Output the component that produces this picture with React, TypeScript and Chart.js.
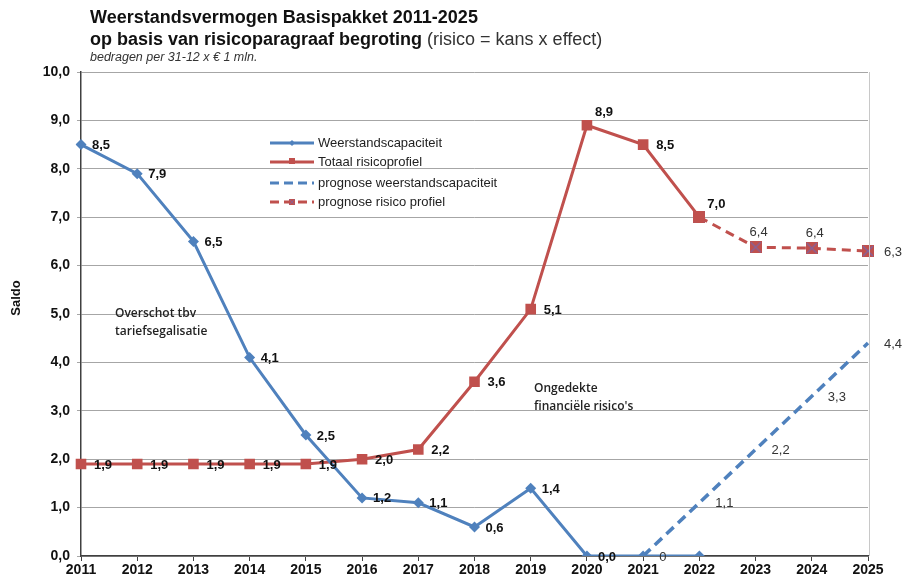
import React, { useEffect, useRef } from "react";
import { Chart, registerables } from "chart.js";

Chart.register(...registerables);

const years = ["2011", "2012", "2013", "2014", "2015", "2016", "2017", "2018", "2019", "2020", "2021", "2022", "2023", "2024", "2025"];
const yTicks = [0, 1, 2, 3, 4, 5, 6, 7, 8, 9, 10];
const weerstand = [8.5, 7.9, 6.5, 4.1, 2.5, 1.2, 1.1, 0.6, 1.4, 0.0, 0.0, 0.0, null, null, null];
const risico = [1.9, 1.9, 1.9, 1.9, 1.9, 2.0, 2.2, 3.6, 5.1, 8.9, 8.5, 7.0, null, null, null];
const prognoseWeerstand = [null, null, null, null, null, null, null, null, null, null, 0, 1.1, 2.2, 3.3, 4.4];
const prognoseRisico = [null, null, null, null, null, null, null, null, null, null, null, 7.0, 6.38, 6.36, 6.3];
const weerstandNoLabel = [10, 11];
const prognoseRisicoNoLabel = [11];
const risicoLabelAbove = [9, 11];

const BLUE = "#4F81BD";
const RED = "#C0504D";
const PURPLE = "#8064A2";
const FONT = "'Liberation Sans', Arial, sans-serif";

const fmt = (v: number) => v.toFixed(1).replace(".", ",");

function makeSquareX(): HTMLCanvasElement {
  const c = document.createElement("canvas");
  c.width = 12;
  c.height = 12;
  const g = c.getContext("2d")!;
  g.fillStyle = RED;
  g.fillRect(0, 0, 12, 12);
  g.strokeStyle = PURPLE;
  g.lineWidth = 1.2;
  g.beginPath();
  g.moveTo(1, 1);
  g.lineTo(11, 11);
  g.moveTo(11, 1);
  g.lineTo(1, 11);
  g.stroke();
  return c;
}

export default function App() {
  const ref = useRef<HTMLCanvasElement>(null);
  useEffect(() => {
    const canvas = ref.current!;
    const sqx = makeSquareX();

    const bgPlugin = {
      id: "bg",
      beforeDraw(chart: any) {
        const ctx = chart.ctx;
        ctx.save();
        ctx.fillStyle = "#ffffff";
        ctx.fillRect(0, 0, chart.width, chart.height);
        ctx.restore();
      },
      afterDraw(chart: any) {
        const ctx = chart.ctx;
        const a = chart.chartArea;
        ctx.save();
        // right border
        ctx.strokeStyle = "#c8c8c8";
        ctx.lineWidth = 1;
        ctx.beginPath();
        ctx.moveTo(a.right + 1.5, a.top);
        ctx.lineTo(a.right + 1.5, a.bottom);
        ctx.stroke();
        // titles
        ctx.fillStyle = "#111";
        ctx.textBaseline = "middle";
        ctx.textAlign = "left";
        ctx.font = `bold 18px ${FONT}`;
        ctx.fillText("Weerstandsvermogen Basispakket 2011-2025", 90, 18);
        const t2 = "op basis van risicoparagraaf begroting";
        ctx.fillText(t2, 90, 40);
        const w2 = ctx.measureText(t2).width;
        ctx.font = `18px ${FONT}`;
        ctx.fillStyle = "#333";
        ctx.fillText(" (risico = kans x effect)", 90 + w2, 40);
        ctx.font = `italic 12.5px ${FONT}`;
        ctx.fillStyle = "#333";
        ctx.fillText("bedragen per 31-12 x € 1 mln.", 90, 58);
        // y title
        ctx.save();
        ctx.translate(16, 298);
        ctx.rotate(-Math.PI / 2);
        ctx.textAlign = "center";
        ctx.font = `bold 13px ${FONT}`;
        ctx.fillStyle = "#111";
        ctx.fillText("Saldo", 0, 0);
        ctx.restore();
        // annotations
        ctx.font = "600 12px 'Open Sans', sans-serif";
        ctx.fillStyle = "#222";
        ctx.fillText("Overschot tbv", 115, 314);
        ctx.fillText("tariefsegalisatie", 115, 332);
        ctx.fillText("Ongedekte", 534, 389);
        ctx.fillText("financiële risico's", 534, 407);
        // legend
        const lx = 270, lx2 = 314;
        const entries = [
          { y: 143, color: BLUE, dash: [] as number[], marker: "diamond", text: "Weerstandscapaciteit" },
          { y: 162, color: RED, dash: [] as number[], marker: "square", text: "Totaal risicoprofiel" },
          { y: 183, color: BLUE, dash: [9, 5], marker: "none", text: "prognose weerstandscapaciteit" },
          { y: 202, color: RED, dash: [9, 5], marker: "sqx", text: "prognose risico profiel" },
        ];
        for (const e of entries) {
          ctx.strokeStyle = e.color;
          ctx.lineWidth = 3;
          ctx.setLineDash(e.dash);
          ctx.beginPath();
          ctx.moveTo(lx, e.y);
          ctx.lineTo(lx2, e.y);
          ctx.stroke();
          ctx.setLineDash([]);
          const mx = (lx + lx2) / 2;
          if (e.marker === "diamond") {
            ctx.fillStyle = BLUE;
            ctx.beginPath();
            ctx.moveTo(mx, e.y - 3);
            ctx.lineTo(mx + 3, e.y);
            ctx.lineTo(mx, e.y + 3);
            ctx.lineTo(mx - 3, e.y);
            ctx.fill();
          } else if (e.marker === "square") {
            ctx.fillStyle = RED;
            ctx.fillRect(mx - 3, e.y - 4, 6, 6);
          } else if (e.marker === "sqx") {
            ctx.drawImage(sqx, mx - 3, e.y - 3, 6, 6);
          }
          ctx.fillStyle = "#222";
          ctx.font = `13px ${FONT}`;
          ctx.textAlign = "left";
          ctx.fillText(e.text, lx2 + 4, e.y);
        }
        // data labels
        chart.data.datasets.forEach((ds: any, di: number) => {
          const meta = chart.getDatasetMeta(di);
          const st = ds.labelStyle;
          ctx.font = st.font;
          ctx.fillStyle = st.color;
          const last = ds.data.length - 1;
          meta.data.forEach((pt: any, i: number) => {
            const v = ds.data[i];
            if (v === null || v === undefined) return;
            if (st.skip && st.skip.includes(i)) return;
            const txt = st.format ? st.format(v) : fmt(v);
            let dx = st.dx, dy = st.dy, align = st.align;
            if (st.above && st.above.includes(i)) {
              dx = 8; dy = -13; align = "left";
            }
            if (i === last && st.lastRight) {
              dx = 16; dy = 1; align = "left";
            }
            ctx.textAlign = align;
            ctx.fillText(txt, pt.x + dx, pt.y + dy);
          });
        });
        ctx.restore();
      },
    };

    const chart = new Chart(canvas, {
      type: "line",
      data: {
        labels: years,
        datasets: [
          {
            label: "Weerstandscapaciteit",
            data: weerstand,
            borderColor: BLUE,
            backgroundColor: BLUE,
            borderWidth: 3,
            pointStyle: "rectRot",
            pointRadius: 5.5,
            pointBorderWidth: 0,
            tension: 0,
            spanGaps: false,
            labelStyle: { font: `bold 13px ${FONT}`, color: "#111", align: "left", dx: 11, dy: 1, skip: weerstandNoLabel },
          } as any,
          {
            label: "Totaal risicoprofiel",
            data: risico,
            borderColor: RED,
            backgroundColor: RED,
            borderWidth: 3,
            pointStyle: "rect",
            pointRadius: 7.5,
            pointBorderWidth: 0,
            tension: 0,
            labelStyle: { font: `bold 13px ${FONT}`, color: "#111", align: "left", dx: 13, dy: 1, above: risicoLabelAbove },
          } as any,
          {
            label: "prognose weerstandscapaciteit",
            data: prognoseWeerstand,
            borderColor: BLUE,
            backgroundColor: BLUE,
            borderWidth: 3.5,
            borderDash: [10, 6],
            pointRadius: 0,
            tension: 0,
            labelStyle: { font: `13px ${FONT}`, color: "#333", align: "left", dx: 16, dy: 1, format: (v: number) => (v === 0 ? "0" : fmt(v)) },
          } as any,
          {
            label: "prognose risico profiel",
            data: prognoseRisico,
            borderColor: RED,
            backgroundColor: RED,
            borderWidth: 3,
            borderDash: [9, 6],
            pointStyle: sqx,
            pointRadius: 6,
            tension: 0,
            labelStyle: { font: `13px ${FONT}`, color: "#333", align: "center", dx: 3, dy: -15, skip: prognoseRisicoNoLabel, lastRight: true },
          } as any,
        ],
      },
      options: {
        animation: false,
        responsive: false,
        layout: { padding: { left: 0, right: 34, top: 72, bottom: 0 } },
        plugins: { legend: { display: false }, tooltip: { enabled: false }, title: { display: false } },
        scales: {
          x: {
            type: "category",
            offset: false,
            grid: { drawOnChartArea: false, drawTicks: true, tickLength: 5, color: "#404040", lineWidth: 1 },
            border: { color: "#404040", width: 1.5 },
            ticks: {
              color: "#111",
              padding: 1,
              maxRotation: 0,
              autoSkip: false,
              font: { family: FONT, size: 14, weight: "bold" },
            },
            afterFit: (s: any) => {
              s.height = 22;
            },
          },
          y: {
            min: 0,
            max: 10,
            afterBuildTicks: (s: any) => {
              s.ticks = yTicks.map((v) => ({ value: v }));
            },
            grid: { color: "#a6a6a6", lineWidth: 1, tickLength: 4, drawTicks: true },
            border: { color: "#404040", width: 1.5 },
            ticks: {
              color: "#111",
              padding: 7,
              font: { family: FONT, size: 14, weight: "bold" },
              callback: (v: any) => fmt(Number(v)),
            },
            afterFit: (s: any) => {
              s.width = 81;
            },
          },
        },
      } as any,
      plugins: [bgPlugin],
    });
    return () => chart.destroy();
  }, []);
  return (
    <div style={{ position: "fixed", left: 0, top: 0, width: 902, height: 578, background: "#fff" }}>
      <canvas ref={ref} width={902} height={578} />
    </div>
  );
}
